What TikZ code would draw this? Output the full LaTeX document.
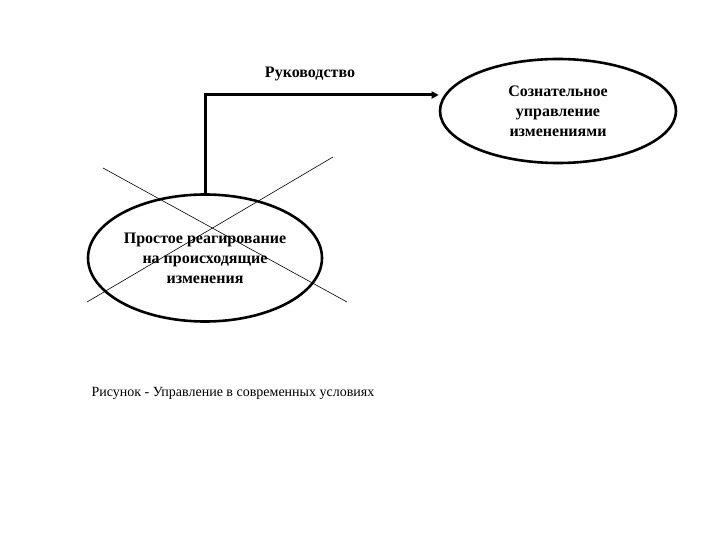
\documentclass[tikz,border=0pt]{standalone}
\usepackage{fontspec}
\setmainfont{Liberation Serif}
\usetikzlibrary{arrows.meta,shapes.geometric}
\begin{document}
\begin{tikzpicture}[x=1pt,y=-1pt,
  oval/.style={draw,line width=2.6pt,ellipse,inner sep=0pt,align=center,font=\bfseries\fontsize{16}{20}\selectfont},
  crossline/.style={line width=0.6pt},
  flow/.style={line width=3pt,-{Triangle[length=7pt,width=7pt]}}]
\useasboundingbox (0,0) rectangle (720,540);
\node[oval,minimum width=234pt,minimum height=127pt] (left) at (205,258) {Простое реагирование\\на происходящие\\изменения};
\node[oval,minimum width=236pt,minimum height=104pt] (right) at (558,111) {Сознательное\\управление\\изменениями};
\coordinate (corner) at (205,95);
\draw[flow] (left.north) -- (corner) -- (right.west |- corner);
\node[font=\bfseries\fontsize{16}{18}\selectfont] (lbl) at (310,74) {Руководство};
\coordinate (c1) at (103,168);
\coordinate (c2) at (347,302);
\coordinate (c3) at (333,157);
\coordinate (c4) at (87,302);
\draw[crossline] (c1) -- (c2);
\draw[crossline] (c3) -- (c4);
\node[anchor=west,font=\fontsize{14}{16}\selectfont] (cap) at (88,393) {Рисунок - Управление в современных условиях};
\end{tikzpicture}
\end{document}
